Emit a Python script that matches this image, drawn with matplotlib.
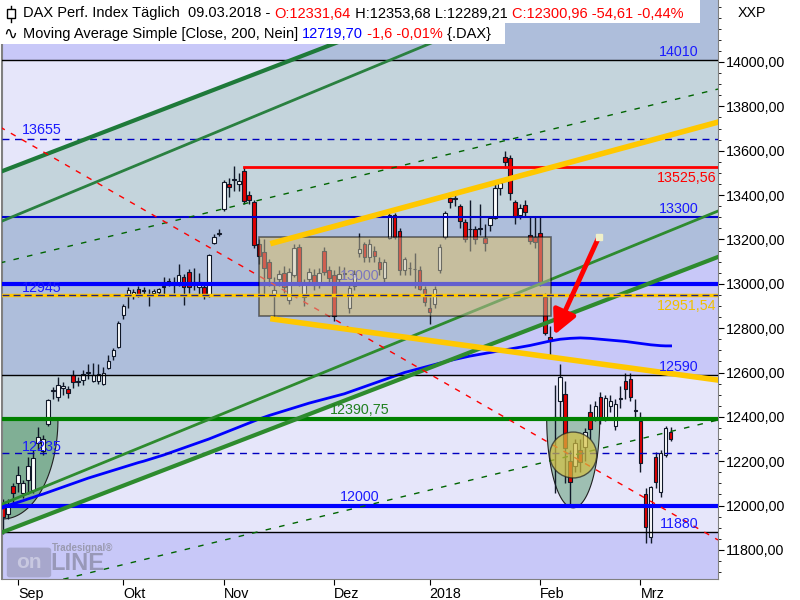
import numpy as np
import matplotlib
matplotlib.use("Agg")
import matplotlib.pyplot as plt
from matplotlib.patches import Rectangle, Ellipse, Polygon, FancyBboxPatch
from matplotlib.font_manager import FontProperties

plt.rcParams['font.family'] = ['Liberation Sans', 'DejaVu Sans']

# trading day index, 0 = 01.09.2017
day = np.arange(-3, 131)

opens = [12010, 11960, 12090, 12100, 12057, 12115, 12070, 12280, 12245, 12370, 12515, 12488,
         12532, 12525, 12590, 12556, 12565, 12598, 12562, 12562, 12548, 12620, 12675, 12715,
         12860, 12955, 12945, 12975, 12970, 12955, 12958, 12965, 12985, 13012, 13005, 13005,
         13030, 13055, 13008, 12985, 12985, 12950, 13185, 13225,
         13335, 13450, 13468, 13450, 13510, 13400, 13370, 13180, 13145, 13100, 12955, 13020,
         13050, 12925, 13040, 13165, 12940, 13020, 13040, 13000, 13150, 13060,
         13040, 13020, 13045, 12890, 12990, 13140, 13180, 13120, 13150, 13100, 13025, 13205,
         13310, 13240, 13060, 13072, 13068, 13062, 12977,
         12890, 12910, 13060, 13210, 13385, 13382, 13350, 13280, 13248, 13245, 13250, 13205,
         13265, 13295, 13430, 13570, 13565, 13370, 13310, 13355, 13220, 13210,
         13230, 12940, 12760, 12400, 12470, 12505, 12200, 12180, 12250, 12265, 12420, 12400,
         12490, 12395, 12450, 12360, 12480, 12560, 12570, 12430,
         12380, 12050, 11860, 12220, 12060, 12230, 12331.64]
highs = [12030, 12030, 12100, 12180, 12115, 12220, 12250, 12355, 12320, 12480, 12535, 12580,
         12555, 12540, 12610, 12580, 12610, 12640, 12645, 12640, 12625, 12680, 12710, 12830,
         12910, 12985, 12975, 12990, 12985, 12975, 12975, 12980, 13030, 13025, 13030, 13090,
         13045, 13065, 13070, 13050, 13000, 13135, 13225, 13245,
         13470, 13475, 13530, 13500, 13526, 13420, 13380, 13200, 13200, 13110, 13030, 13060,
         13080, 13070, 13180, 13180, 13020, 13070, 13065, 13070, 13165, 13080,
         13060, 13080, 13075, 13000, 13060, 13230, 13190, 13200, 13170, 13120, 13110, 13320,
         13320, 13250, 13120, 13100, 13140, 13080, 12990,
         12940, 12990, 13180, 13330, 13390, 13420, 13360, 13290, 13380, 13260, 13360, 13270,
         13300, 13450, 13470, 13600, 13580, 13380, 13360, 13380, 13300, 13300,
         13300, 12960, 12810, 12545, 12640, 12560, 12250, 12300, 12300, 12350, 12460, 12470,
         12510, 12500, 12500, 12480, 12540, 12600, 12600, 12480,
         12420, 12080, 12090, 12240, 12250, 12360, 12353.68]
lows = [11870, 11940, 12010, 12060, 12035, 12050, 12055, 12250, 12230, 12360, 12480, 12470,
        12500, 12485, 12530, 12540, 12545, 12570, 12555, 12550, 12545, 12615, 12655, 12710,
        12840, 12890, 12930, 12940, 12945, 12900, 12945, 12950, 12950, 12990, 12960, 12990,
        12905, 12960, 12970, 12950, 12930, 12940, 13180, 13215,
        13330, 13390, 13420, 13420, 13360, 13360, 13160, 13090, 12950, 12990, 12850, 12990,
        12960, 12910, 13030, 12990, 12900, 13000, 12970, 12980, 13040, 13000,
        12830, 13000, 13020, 12870, 12970, 13120, 13100, 13100, 13100, 13040, 13000, 13200,
        13200, 13040, 13040, 13040, 12980, 12970, 12900,
        12820, 12890, 13050, 13200, 13340, 13350, 13250, 13190, 13150, 13180, 13220, 13150,
        13240, 13290, 13400, 13520, 13380, 13270, 13290, 13300, 13180, 13160,
        12990, 12770, 12680, 12055, 12400, 12100, 12000, 12150, 12150, 12200, 12300, 12380,
        12370, 12380, 12420, 12340, 12440, 12480, 12470, 12400,
        12150, 11830, 11830, 12080, 12040, 12220, 12289.21]
closes = [11950, 12000, 12056, 12140, 12100, 12180, 12215, 12310, 12300, 12475, 12522, 12545,
          12540, 12508, 12555, 12561, 12595, 12602, 12590, 12592, 12600, 12650, 12700, 12822,
          12900, 12970, 12965, 12950, 12968, 12950, 12968, 12975, 12990, 13005, 13008, 13040,
          12985, 12985, 13000, 13010, 12950, 13130, 13210, 13230,
          13460, 13435, 13472, 13465, 13375, 13380, 13175, 13127, 13070, 13025, 12970, 13045,
          12985, 13055, 13160, 13010, 13005, 13055, 12995, 13050, 13055, 13025,
          12855, 13045, 13048, 12980, 13045, 13155, 13120, 13180, 13125, 13065, 13100, 13310,
          13210, 13060, 13110, 13070, 13065, 12977, 12917,
          12871, 12978, 13167, 13319, 13367, 13385, 13281, 13202, 13245, 13200, 13245, 13185,
          13295, 13430, 13455, 13550, 13410, 13300, 13340, 13325, 13195, 13190,
          13010, 12780, 12740, 12390, 12580, 12260, 12107, 12282, 12196, 12330, 12345, 12450,
          12390, 12485, 12470, 12460, 12483, 12525, 12490, 12425,
          12190, 11905, 12085, 12105, 12235, 12350, 12300.96]

ma200 = [11990, 12000, 12008, 12015, 12022, 12030, 12037, 12045, 12052, 12060,
         12068, 12076, 12084, 12092, 12100, 12108, 12116, 12124, 12131, 12138,
         12145, 12152, 12159, 12166, 12173, 12180, 12187, 12194, 12200, 12207,
         12214, 12221, 12228, 12236, 12244, 12252, 12260, 12268, 12276, 12284,
         12292, 12300, 12309, 12318, 12327, 12336, 12345, 12354, 12363, 12372,
         12381, 12390, 12398, 12406, 12413, 12420, 12427, 12434, 12441, 12448,
         12455, 12462, 12468, 12474, 12480, 12486, 12492, 12498, 12504, 12512,
         12520, 12528, 12536, 12544, 12552, 12560, 12568, 12576, 12584, 12592,
         12600, 12606, 12612, 12618, 12624, 12630, 12636, 12642, 12648, 12654,
         12659, 12664, 12669, 12674, 12678, 12682, 12686, 12690, 12694, 12698,
         12702, 12706, 12710, 12714, 12718, 12722, 12727, 12732, 12737, 12742,
         12746, 12750, 12752, 12754, 12755, 12756, 12755, 12754, 12752, 12750,
         12748, 12746, 12744, 12742, 12740, 12737, 12734, 12731, 12728, 12725,
         12723, 12721, 12720, 12720]

month_pos = [0, 21, 41, 63, 82, 104, 124]
month_lab = ['Sep', 'Okt', 'Nov', 'Dez', '2018', 'Feb', 'Mrz']

# horizontal levels
band_edges = [11000, 11880, 12590, 13300, 14010, 15000]
band_cols = ['#c8c8f8', '#e6e6fa', '#c8c8f8', '#e6e6fa', '#c8c8f8']

# trend lines in trading days / points
line_x = [-3.59, 139.44]
g1 = [13504, 14748]
g2 = [13279, 14622]
g3 = [12003, 13328]
g4 = [11876, 13121]
d1 = [13094, 13878]
d2_x = [9.0, 139.44]
d2 = [11668, 12386]
red_diag = [13707, 11845]
y_x = [50.8, 139.44]
y_up = [13184, 13729]
y_lo = [12841, 12566]

box_x = [48.0, 106.2]
box_y = [12855, 13211]
arrow_from = (115.7, 13211)
arrow_to = (106.8, 12769)
circle_c = (110.6, 12228)
bowl_left = (-3.0, 10.96, 451, 0.7)
bowl_right = (110.6, 5.28, 401, 0.55)

W, H = 800, 600
fig = plt.figure(figsize=(8, 6), dpi=100)
ax = fig.add_axes([2 / W, 21 / H, 716 / W, 579 / H])
x_lo, x_hi = -3.19, 139.44
ax.set_xlim(x_lo, x_hi)
ax.set_ylim(11669, 14279.5)

for i in range(len(band_cols)):
    ax.axhspan(band_edges[i], band_edges[i + 1], color=band_cols[i], zorder=0, lw=0)

# channel fill
ax.fill([line_x[0], line_x[1], line_x[1], line_x[0]], [g1[0], g1[1], g4[1], g4[0]],
        color=(98 / 255, 162 / 255, 134 / 255), alpha=0.25, lw=0, zorder=0.5)

# bowls
for cx, a, b, al in [bowl_left, bowl_right]:
    th = np.linspace(np.pi, 2 * np.pi, 80)
    pts = np.column_stack([cx + a * np.cos(th), 12390.75 + b * np.sin(th)])
    ax.add_patch(Polygon(pts, closed=True, facecolor=(100 / 255, 160 / 255, 120 / 255),
                         alpha=al, edgecolor='none', zorder=1.6))
    ax.plot(pts[:, 0], pts[:, 1], color='#202020', lw=0.8, zorder=1.7)

# box base
ax.add_patch(Rectangle((box_x[0], box_y[0]), box_x[1] - box_x[0], box_y[1] - box_y[0],
                       facecolor='#c6be9e', edgecolor='none', zorder=1.5))

# candles
o = np.array(opens); c = np.array(closes)
hi = np.array(highs); lo = np.array(lows)
up = c >= o
ax.vlines(day, lo, hi, color='#101828', lw=1, zorder=2)
ax.bar(day, np.maximum(np.abs(c - o), 2), bottom=np.minimum(o, c), width=0.72,
       color=np.where(up, 'white', '#e00000'), edgecolor='#101828', lw=0.8, zorder=2.1)

# moving average
ax.plot(day, ma200, color='#0000ff', lw=2, zorder=3)

# horizontal lines
ax.axhline(14010, color='black', lw=1, zorder=3)
ax.axhline(13655, color='#0000c0', lw=1, ls=(0, (5, 4)), zorder=3)
ax.plot([45, x_hi], [13525.56, 13525.56], color='#ff0000', lw=2, zorder=3)
ax.axhline(13300, color='#0000d0', lw=1.5, zorder=3)
ax.axhline(13000, color='#0000ff', lw=3, zorder=3)
ax.axhline(12590, color='black', lw=1, zorder=3)
ax.axhline(12390.75, color='#008000', lw=3, zorder=3)
ax.axhline(12235, color='#0000c0', lw=1, ls=(0, (5, 4)), zorder=3)
ax.axhline(12000, color='#0000ff', lw=3, zorder=3)
ax.axhline(11880, color='black', lw=1, zorder=3)

# diagonal lines
ax.plot(line_x, g1, color='#1f7a3a', lw=3, zorder=3)
ax.plot(line_x, g2, color='#2a8040', lw=2, zorder=3)
ax.plot(line_x, g3, color='#2e8b2e', lw=2, zorder=3)
ax.plot(line_x, g4, color='#2e8b2e', lw=3, zorder=3)
ax.plot(line_x, d1, color='#006400', lw=1, ls=(0, (4, 6)), zorder=3)
ax.plot(d2_x, d2, color='#006400', lw=1, ls=(0, (4, 6)), zorder=3)
ax.plot(line_x, red_diag, color='#ff0000', lw=1, ls=(0, (4, 5)), zorder=3)

lab = dict(fontsize=10.3, va='center', zorder=6)
ax.text(64.1, 13035, '13000', color='#3030e0', ha='left', **dict(lab, zorder=3.5))

# box overlay
ax.add_patch(Rectangle((box_x[0], box_y[0]), box_x[1] - box_x[0], box_y[1] - box_y[0],
                       facecolor='#c6be9e', alpha=0.5, edgecolor='black', lw=1.2, zorder=4))

# circle
ax.add_patch(Ellipse(circle_c, 9.36, 207, facecolor='#d4c040', alpha=0.7,
                     edgecolor='#202020', lw=1, zorder=4.5))

# yellow lines
ax.axhline(12951.54, color='#ffc800', lw=2.5, zorder=5)
ax.axhline(12951.54, color='#202080', lw=1, ls=(0, (5, 3)), zorder=5.1)
ax.plot(y_x, y_up, color='#ffc800', lw=4, zorder=5)
ax.plot(y_x, y_lo, color='#ffc800', lw=4, zorder=5)

# arrow
ax.annotate('', xy=arrow_to, xytext=arrow_from,
            arrowprops=dict(arrowstyle='-|>,head_width=0.45,head_length=0.9',
                            color='#ff0000', lw=3.5, mutation_scale=16, shrinkA=0, shrinkB=0),
            zorder=5.5)
ax.plot([arrow_from[0]], [arrow_from[1]], 's', ms=4, color='#f0f0c8', zorder=5.6)

# level labels
blue = '#1a1aff'
ax.text(135.5, 14045, '14010', color=blue, ha='right', **lab)
ax.text(0.8, 13693, '13655', color=blue, ha='left', **lab)
ax.text(139.2, 13479, '13525,56', color='#ff0000', ha='right', **lab)
ax.text(135.5, 13337, '13300', color=blue, ha='right', **lab)
ax.text(0.8, 12979, '12945', color=blue, ha='left', **lab)
ax.text(139.2, 12898, '12951,54', color='#f0c000', ha='right', **lab)
ax.text(135.5, 12623, '12590', color=blue, ha='right', **lab)
ax.text(62.2, 12431, '12390,75', color='#208020', ha='left', **lab)
ax.text(0.8, 12264, '12235', color=blue, ha='left', **lab)
ax.text(64.1, 12039, '12000', color=blue, ha='left', **lab)
ax.text(135.5, 11917, '11880', color=blue, ha='right', **lab)

# axes styling
ax.yaxis.tick_right()
ax.set_yticks(np.arange(11800, 14001, 200))
ax.set_yticks(np.arange(11700, 14251, 50), minor=True)
ax.set_yticklabels([f"{v:.2f}".replace('.', ',') for v in np.arange(11800, 14001, 200)])
ax.tick_params(axis='y', which='major', direction='out', length=4, pad=2, labelsize=10.3)
ax.tick_params(axis='y', which='minor', direction='out', length=2)
ax.set_xticks(month_pos)
ax.set_xticklabels(month_lab)
for t in ax.get_xticklabels():
    t.set_ha('left')
ax.tick_params(axis='x', direction='out', length=4, pad=2, labelsize=10.3)
for s in ['left', 'right', 'bottom']:
    ax.spines[s].set_color('#808080')
ax.spines['left'].set_linewidth(1.5)
ax.spines['top'].set_visible(False)

# header
fig.add_artist(Rectangle((0, 1 - 23 / H), 700 / W, 23 / H, transform=fig.transFigure,
                         facecolor='white', edgecolor='none', zorder=10))
fig.add_artist(Rectangle((0, 1 - 44 / H), 505 / W, 21 / H, transform=fig.transFigure,
                         facecolor='white', edgecolor='none', zorder=10))
renderer = fig.canvas.get_renderer()
fp = FontProperties(family=['Liberation Sans', 'DejaVu Sans'], size=10.5)


def text_w(s):
    w1, _, _ = renderer.get_text_width_height_descent('x' + s + 'x', fp, ismath=False)
    w2, _, _ = renderer.get_text_width_height_descent('xx', fp, ismath=False)
    return w1 - w2


def rich_line(x, y, pieces):
    for s, col in pieces:
        fig.text(x / W, 1 - y / H, s, color=col, fontproperties=fp, va='center',
                 ha='left', zorder=11)
        x += text_w(s)


rich_line(23, 13.5, [('DAX Perf. Index Täglich  09.03.2018 - ', 'black'),
                     ('O:12331,64', '#ff0000'),
                     (' H:12353,68 L:12289,21 ', 'black'),
                     ('C:12300,96 -54,61 -0,44%', '#ff0000')])
rich_line(23, 34, [('Moving Average Simple [Close, 200, Nein] ', 'black'),
                   ('12719,70', '#0000ff'),
                   (' -1,6 -0,01%', '#ff0000'),
                   (' {.DAX}', 'black')])
# icons
fig.add_artist(plt.Line2D([11 / W, 11 / W], [1 - 6 / H, 1 - 22 / H], color='black', lw=1,
                          transform=fig.transFigure, zorder=11))
fig.add_artist(Rectangle((7 / W, 1 - 18 / H), 8 / W, 9 / H, transform=fig.transFigure,
                         facecolor='white', edgecolor='black', lw=1, zorder=12))
fig.text(3 / W, 1 - 34 / H, '∿', family=['DejaVu Sans'], fontsize=12, va='center',
         ha='left', zorder=11)
fig.text(738 / W, 1 - 13 / H, 'XXP', fontsize=10.3, va='center', ha='left')

# logo
fig.add_artist(FancyBboxPatch((10 / W, 1 - 575 / H), 38 / W, 25 / H,
                              boxstyle='round,pad=0.004', transform=fig.transFigure,
                              facecolor='#8c8ca8', alpha=0.55, edgecolor='none', zorder=9))
fig.text(29 / W, 1 - 563 / H, 'on', color='#c8c8e0', fontsize=15, fontweight='bold',
         ha='center', va='center', zorder=9.5)
fig.text(50 / W, 1 - 564 / H, 'LINE', color='#8c8ca8', alpha=0.8, fontsize=17,
         fontweight='bold', ha='left', va='center', zorder=9.5)
fig.text(52 / W, 1 - 548 / H, 'Tradesignal®', color='#9a9ab0', fontsize=7,
         fontweight='bold', ha='left', va='center', zorder=9.5)

fig.savefig('out.png', dpi=100)
